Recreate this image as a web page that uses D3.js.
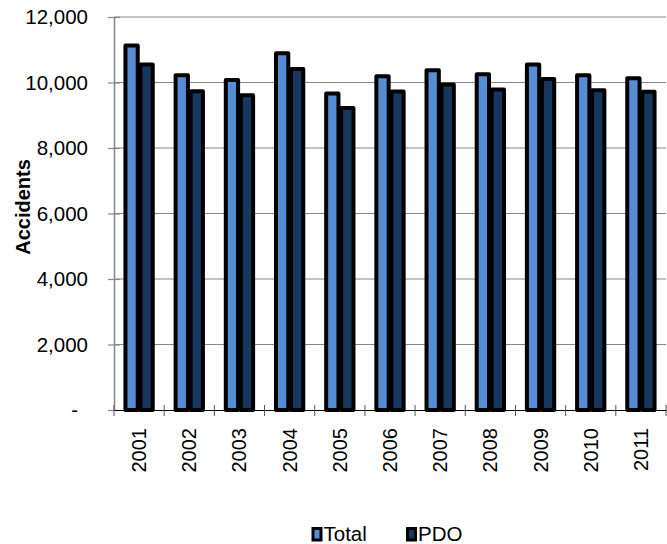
<!DOCTYPE html>
<html><head><meta charset="utf-8">
<script src="https://cdn.jsdelivr.net/npm/d3@7"></script>
<style>body{margin:0;background:#fff}svg{display:block;font-family:"Liberation Sans",Arial,sans-serif}</style>
</head><body>
<svg id="c" width="667" height="544"></svg>
<script>
const years = ["2001","2002","2003","2004","2005","2006","2007","2008","2009","2010","2011"];
const totalValues = [11130,10220,10080,10895,9665,10190,10375,10255,10550,10225,10130];
const pdoValues   = [10550,9730,9610,10415,9225,9725,9940,9785,10110,9765,9715];
const seriesNames = ["Total","PDO"];
const yTicks = [0,2000,4000,6000,8000,10000,12000];

const svg = d3.select("#c");
const L=114, R=666, T=17, B=410;
const x = d3.scaleBand().domain(years).range([L,R]).padding(0);
const y = d3.scaleLinear().domain([0,12000]).range([B,T]);
const colors = {Total:"#558ED5", PDO:"#17375E"};
const fmt = d3.format(",");

// gridlines
svg.append("g").selectAll("line").data(yTicks.filter(d=>d>0)).join("line")
  .attr("x1",L).attr("x2",R).attr("y1",d=>y(d)).attr("y2",d=>y(d))
  .attr("stroke","#868686").attr("stroke-width",1.2);

// y axis
const yAxis = d3.axisLeft(y).tickValues(yTicks).tickSize(0).tickFormat(d=>d===0?"-":fmt(d));
const ya = svg.append("g").attr("transform",`translate(${L},0)`).call(yAxis);
ya.select(".domain").attr("stroke","#868686").attr("stroke-width",1.5);
ya.selectAll(".tick line").remove();
ya.selectAll(".tick").append("line").attr("x1",-6).attr("x2",6).attr("stroke","#868686").attr("stroke-width",1.2);
ya.selectAll(".tick text").attr("x",-26).attr("font-size",20.5).attr("fill","#000")
  .attr("font-family","'Liberation Sans',Arial,sans-serif");
ya.selectAll(".tick").filter(d=>d===0).select("text").attr("x",-36);

// bars
const bw = 12.3, sw = 4;
const data = years.map((yr,i)=>({yr, Total: totalValues[i], PDO: pdoValues[i]}));
seriesNames.forEach((s,si)=>{
  const off = si===0 ? -7.5 : 7.5;
  svg.append("g").selectAll("rect").data(data).join("rect")
    .attr("x",d=>x(d.yr)+x.bandwidth()/2+off-bw/2)
    .attr("width",bw)
    .attr("y",d=>y(d[s]))
    .attr("height",d=>B-y(d[s]))
    .attr("fill",colors[s]).attr("stroke","#000").attr("stroke-width",sw)
    .attr("stroke-linejoin","round");
});

// x axis
const xa = svg.append("g").attr("transform",`translate(0,${B})`)
  .call(d3.axisBottom(x).tickSize(0).tickFormat(d=>d));
xa.select(".domain").attr("stroke","#000").attr("stroke-width",1.2);
xa.selectAll(".tick text").attr("transform","rotate(-90)").attr("text-anchor","end")
  .attr("x",-18).attr("y",0).attr("dy","0.35em").attr("font-size",20).attr("fill","#000")
  .attr("font-family","'Liberation Sans',Arial,sans-serif");
const tickXs = years.map(d=>x(d)).concat([R]);
svg.append("g").selectAll("line").data(tickXs).join("line")
  .attr("x1",d=>d).attr("x2",d=>d).attr("y1",B-5).attr("y2",B+6)
  .attr("stroke","#555").attr("stroke-width",1);

// axis title
svg.append("text").attr("transform",`translate(30,207) rotate(-90)`)
  .attr("text-anchor","middle").attr("font-size",20).attr("font-weight","bold").text("Accidents");

// legend
const leg = svg.append("g");
const legItems = [{s:"Total",x:311.5},{s:"PDO",x:406}];
legItems.forEach(it=>{
  leg.append("rect").attr("x",it.x+1.5).attr("y",528.5).attr("width",8).attr("height",11.5)
    .attr("fill",colors[it.s]).attr("stroke","#000").attr("stroke-width",3);
  leg.append("text").attr("x",it.x+12).attr("y",541).attr("font-size",20.5).text(it.s);
});
</script>
</body></html>
